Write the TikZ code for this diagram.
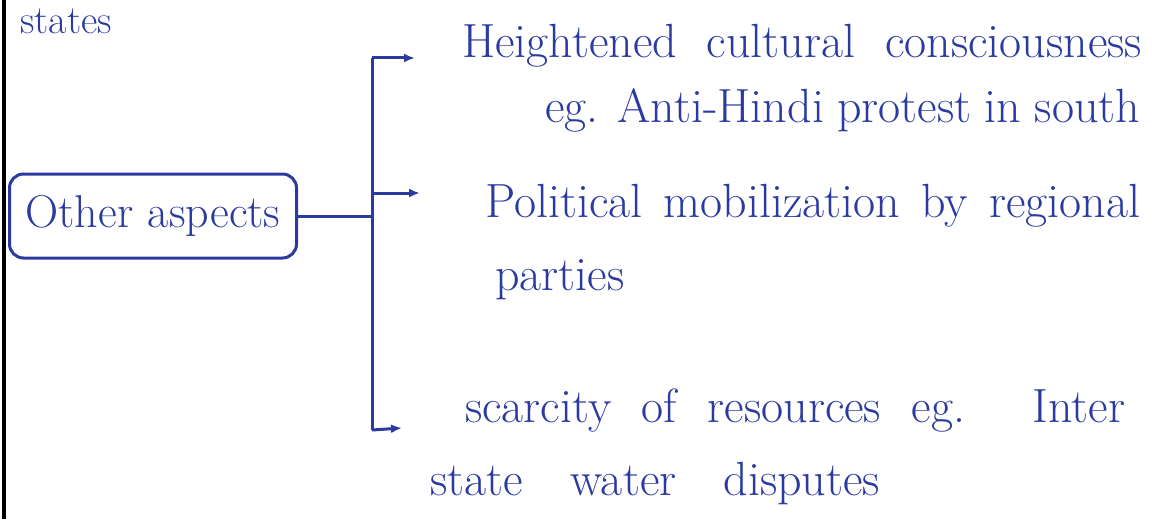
\documentclass[tikz,border=0pt]{standalone}
\usetikzlibrary{positioning,arrows.meta}
\definecolor{ink}{RGB}{42,58,160}

\begin{document}
\begin{tikzpicture}[
  x=1pt,y=-1pt,
  handtext/.style={text=ink,font=\fontsize{48}{52}\selectfont,inner sep=0pt,anchor=base west},
  topicbox/.style={rectangle,draw=ink,line width=3pt,rounded corners=14pt,text=ink,
    font=\fontsize{46}{50}\selectfont,minimum width=287pt,minimum height=84pt},
  branch/.style={draw=ink,line width=3pt},
  arrow/.style={branch,-{Latex[length=11pt,width=9pt]}}
]
\useasboundingbox (0,0) rectangle (1166,519);
% page margin
\draw[line width=4pt] (4,0) -- (4,519);
\node[handtext,font=\fontsize{40}{44}\selectfont] (prev) at (20,34) {\makebox[105pt][s]{states}};

\node[topicbox] (other) at (153,216) {\makebox[255pt][s]{Other aspects}};

\coordinate (jtop) at (372,58);
\coordinate (jbot) at (372,430);
\coordinate (a1) at (415,58);
\coordinate (a2) at (420,193);
\coordinate (a3) at (402,428);

\node[handtext] (cult) at (462,57) {\makebox[680pt][s]{Heightened cultural consciousness}};
\node[handtext] (cultex) at (545,122) {\makebox[595pt][s]{eg. Anti-Hindi protest in south}};
\node[handtext] (pol) at (485,217) {\makebox[655pt][s]{Political mobilization by regional}};
\node[handtext] (polb) at (495,290) {parties};
\node[handtext] (scar) at (465,422) {\makebox[660pt][s]{scarcity of resources eg. Inter}};
\node[handtext] (scarb) at (430,495) {\makebox[450pt][s]{state water disputes}};

\draw[branch] (other.east) -- (other.east -| jtop);
\draw[branch] (jtop) -- (jbot);
\draw[arrow] (jtop) -- (a1);
\draw[arrow] (jtop |- a2) -- (a2);
\draw[arrow] (jbot) -- (a3);
\end{tikzpicture}
\end{document}
